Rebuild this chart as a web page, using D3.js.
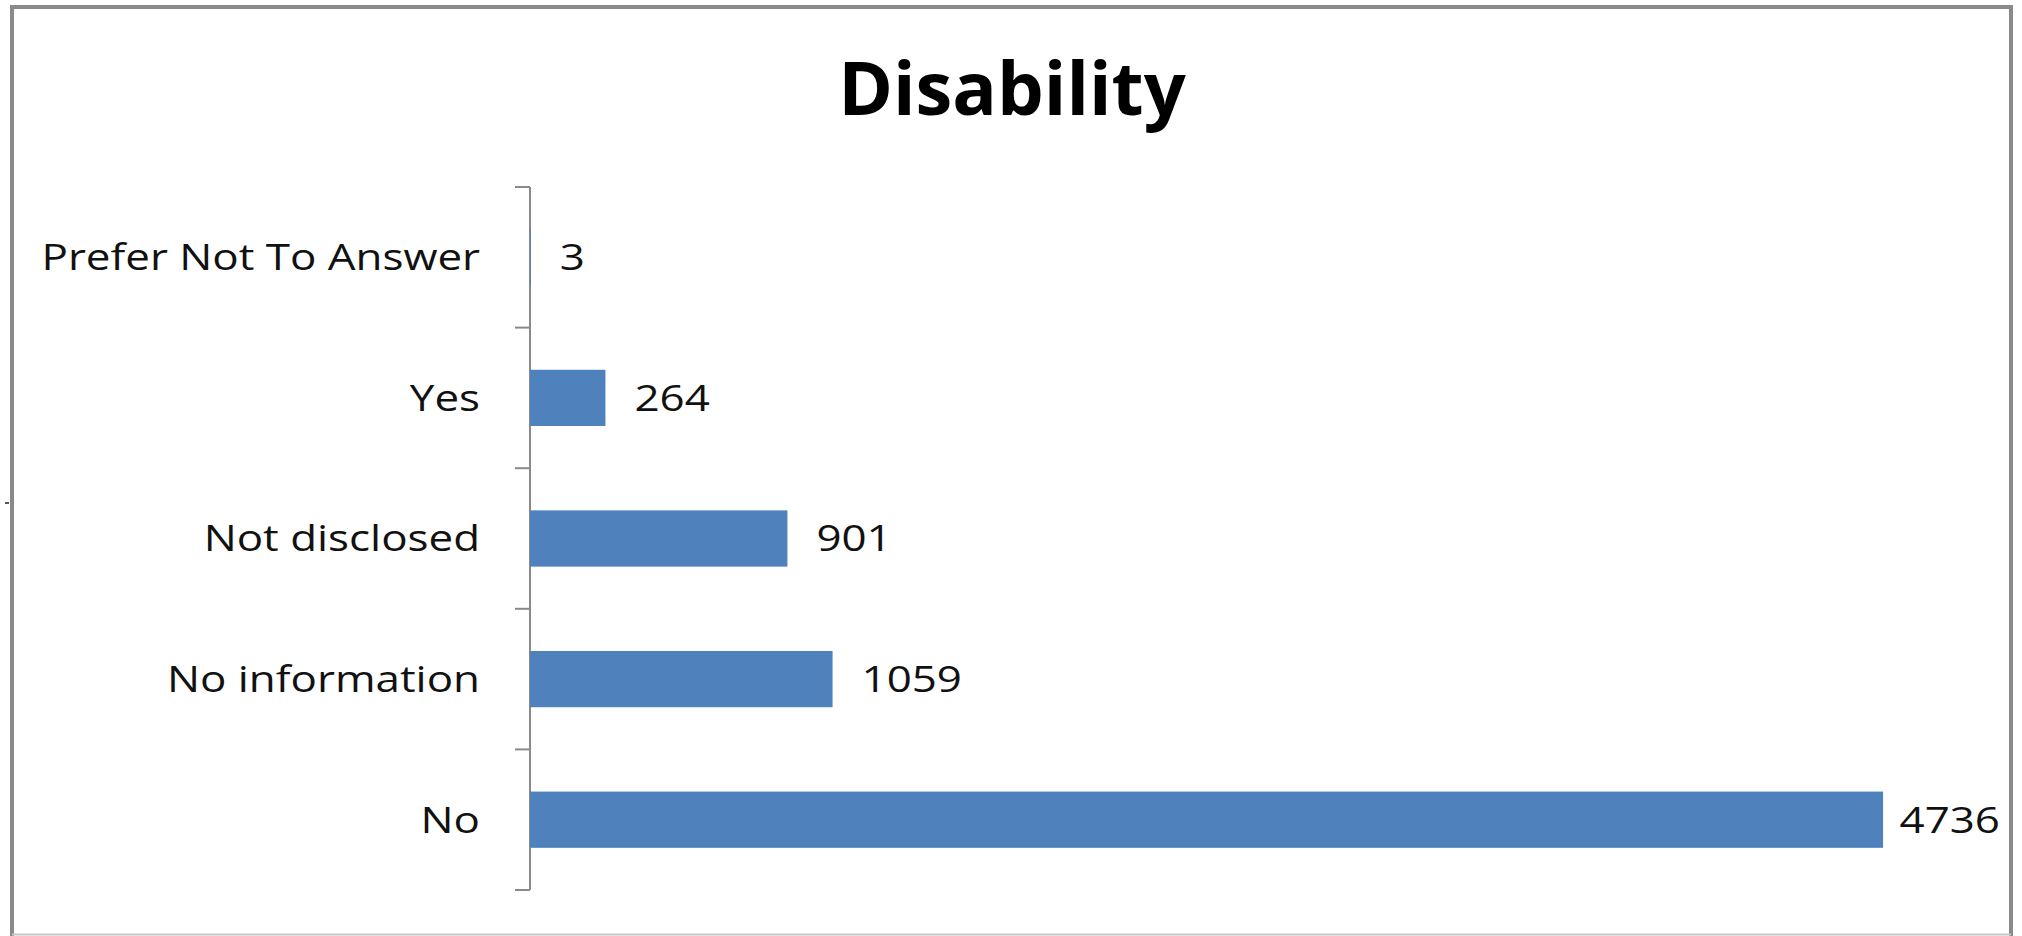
<!DOCTYPE html>
<html>
<head>
<meta charset="utf-8">
<script src="https://cdnjs.cloudflare.com/ajax/libs/d3/7.8.5/d3.min.js"></script>
<style>
  html, body { margin: 0; padding: 0; background: #fff; }
  svg { display: block; }
</style>
</head>
<body>
<script>
const width = 2022;
const height = 936;

// Données du graphique (de haut en bas)
const categories = ["Prefer Not To Answer", "Yes", "Not disclosed", "No information", "No"];
const values = [3, 264, 901, 1059, 4736];
const chartTitle = "Disability";

const margin = { top: 187, left: 530, bottom: 46 };
const xMax = 5000;
const stretch = 1.22; // le texte de la source est étiré horizontalement

const svg = d3.select("body")
    .append("svg")
    .attr("width", width)
    .attr("height", height);

// Cadre du graphique
svg.append("rect")
    .attr("x", 12).attr("y", 7)
    .attr("width", 1999).attr("height", 940)
    .attr("fill", "none")
    .attr("stroke", "#8a8a8a")
    .attr("stroke-width", 4);
svg.append("line")
    .attr("x1", 12).attr("x2", 2011)
    .attr("y1", 934.5).attr("y2", 934.5)
    .attr("stroke", "#c8c8c8")
    .attr("stroke-width", 2);
// petit trait à gauche du cadre
svg.append("line")
    .attr("x1", 5).attr("x2", 9)
    .attr("y1", 503).attr("y2", 503)
    .attr("stroke", "#222")
    .attr("stroke-width", 1.5);

// Titre
svg.append("text")
    .attr("x", 1012)
    .attr("y", 115)
    .attr("text-anchor", "middle")
    .attr("font-family", "'Open Sans', sans-serif")
    .attr("font-weight", "bold")
    .attr("font-size", "74px")
    .attr("fill", "#000")
    .text(chartTitle);

// Échelles
const x = d3.scaleLinear()
    .domain([0, xMax])
    .range([margin.left, margin.left + 1428.5]);

const y = d3.scaleBand()
    .domain(categories)
    .range([margin.top, height - margin.bottom])
    .paddingInner(0.6)
    .paddingOuter(0.3);

// Axe vertical avec graduations entre les catégories
const yAxisG = svg.append("g");
yAxisG.append("line")
    .attr("x1", x(0)).attr("x2", x(0))
    .attr("y1", margin.top).attr("y2", height - margin.bottom)
    .attr("stroke", "#8a8a8a")
    .attr("stroke-width", 2);

const tickYs = d3.range(categories.length + 1).map(i => margin.top + i * (height - margin.bottom - margin.top) / categories.length);
yAxisG.selectAll("line.tick")
    .data(tickYs)
    .enter()
    .append("line")
    .attr("class", "tick")
    .attr("x1", x(0) - 15).attr("x2", x(0))
    .attr("y1", d => d).attr("y2", d => d)
    .attr("stroke", "#8a8a8a")
    .attr("stroke-width", 2);

// Libellés des catégories
yAxisG.selectAll("text")
    .data(categories)
    .enter()
    .append("text")
    .attr("transform", d => `translate(${x(0) - 50}, ${y(d) + y.bandwidth() / 2}) scale(${stretch}, 1)`)
    .attr("dy", "0.36em")
    .attr("text-anchor", "end")
    .attr("font-family", "'Open Sans', sans-serif")
    .attr("font-size", "36px")
    .attr("fill", "#111")
    .text(d => d);

// Barres
svg.selectAll("rect.bar")
    .data(values)
    .enter()
    .append("rect")
    .attr("class", "bar")
    .attr("x", x(0))
    .attr("y", (d, i) => y(categories[i]))
    .attr("width", d => x(d) - x(0))
    .attr("height", y.bandwidth())
    .attr("fill", "#4f81bd");

// Étiquettes de valeurs
svg.selectAll("text.value")
    .data(values)
    .enter()
    .append("text")
    .attr("class", "value")
    .attr("dy", "0.36em")
    .attr("font-family", "'Open Sans', sans-serif")
    .attr("font-size", "36px")
    .attr("fill", "#111")
    .text(d => d)
    .each(function (d, i) {
        // Ne pas dépasser le bord droit du cadre
        const w = this.getComputedTextLength() * stretch;
        const pos = Math.min(x(d) + 29, 2000 - w);
        const cy = y(categories[i]) + y.bandwidth() / 2;
        d3.select(this).attr("transform", `translate(${pos}, ${cy}) scale(${stretch}, 1)`);
    });
</script>
</body>
</html>
